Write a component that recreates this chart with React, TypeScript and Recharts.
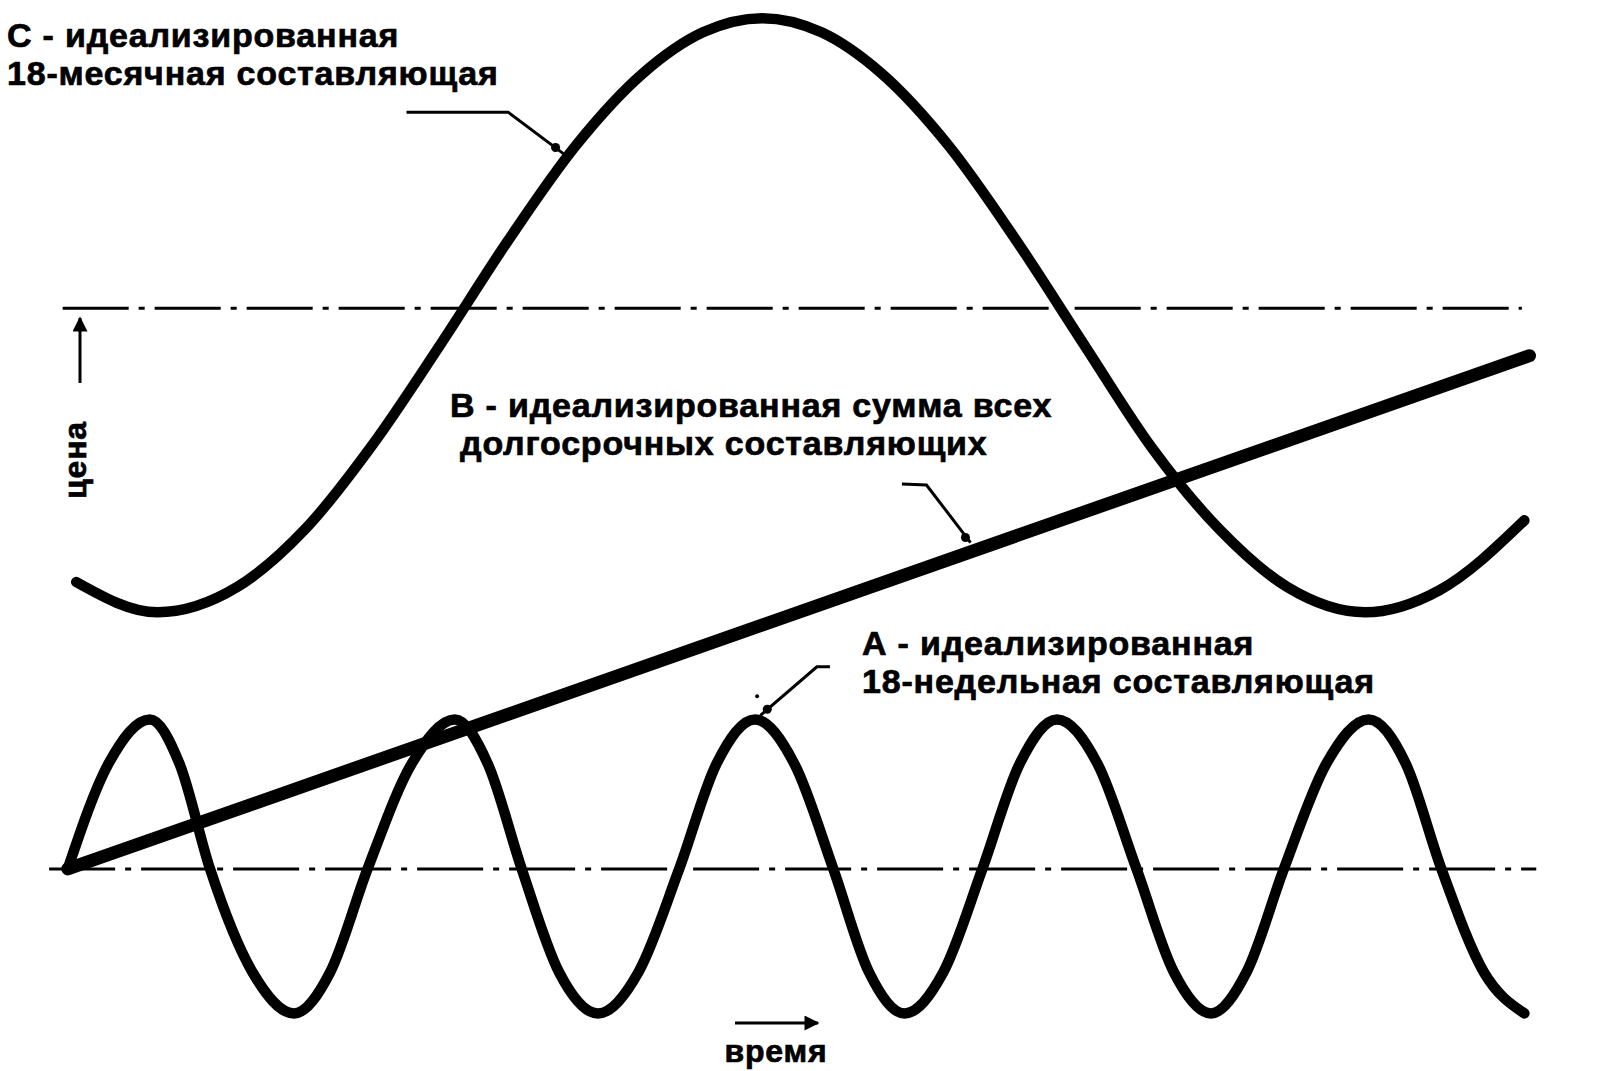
import React from 'react';
import { ComposedChart, Line, XAxis, YAxis, ReferenceDot } from 'recharts';

// время в неделях, цена в условных единицах (0 = нижняя осевая линия)
const weekDomain = [-4, 90.7];
const priceDomain = [-20, 86];

// A - 18-недельная составляющая
const cycleA = [
  { t: 0, p: 0 }, { t: 2.4, p: 10.4 }, { t: 4.85, p: 14.8 }, { t: 6.6, p: 10.4 },
  { t: 8.4, p: 0 }, { t: 10.9, p: -10.2 }, { t: 13.36, p: -14.3 }, { t: 15.5, p: -10.2 },
  { t: 17.7, p: 0 }, { t: 20.3, p: 10.4 }, { t: 22.86, p: 14.8 }, { t: 24.8, p: 10.4 },
  { t: 26.8, p: 0 }, { t: 29.0, p: -10.2 }, { t: 31.3, p: -14.3 }, { t: 33.7, p: -10.2 },
  { t: 36.1, p: 0 }, { t: 38.3, p: 10.4 }, { t: 40.57, p: 14.8 }, { t: 42.9, p: 10.4 },
  { t: 45.2, p: 0 }, { t: 47.3, p: -10.2 }, { t: 49.4, p: -14.3 }, { t: 51.7, p: -10.2 },
  { t: 54.0, p: 0 }, { t: 56.2, p: 10.4 }, { t: 58.4, p: 14.8 }, { t: 60.8, p: 10.4 },
  { t: 63.1, p: 0 }, { t: 65.3, p: -10.2 }, { t: 67.5, p: -14.3 }, { t: 69.6, p: -10.2 },
  { t: 71.8, p: 0 }, { t: 74.3, p: 10.4 }, { t: 76.8, p: 14.8 }, { t: 79.0, p: 10.4 },
  { t: 81.1, p: 0 }, { t: 83.6, p: -10.2 }, { t: 86.0, p: -14.3 },
];

// B - сумма всех долгосрочных составляющих
const trendB = [
  { t: 0, p: 0 },
  { t: 86.3, p: 50.8 },
];

// C - 18-месячная составляющая
const cycleC = [
  { t: 0.5, p: 28.4 }, { t: 5.3, p: 25.4 }, { t: 10, p: 27.9 }, { t: 14, p: 33.6 },
  { t: 18, p: 42.0 }, { t: 22, p: 51.9 }, { t: 26, p: 62.2 }, { t: 30, p: 71.6 },
  { t: 34, p: 78.8 }, { t: 37.5, p: 82.8 }, { t: 41, p: 84.2 }, { t: 44.5, p: 82.8 },
  { t: 48, p: 78.8 }, { t: 52, p: 71.6 }, { t: 56, p: 62.2 }, { t: 60, p: 51.9 },
  { t: 64, p: 41.7 }, { t: 68, p: 33.6 }, { t: 72, p: 27.9 }, { t: 76.6, p: 25.4 },
  { t: 81, p: 27.6 }, { t: 86, p: 34.5 },
];

// осевые линии
const lowerAxis = [{ t: -1.1, p: 0 }, { t: 86.7, p: 0 }];
const upperAxis = [{ t: -0.3, p: 55.5 }, { t: 85.85, p: 55.5 }];

// выноски подписей
const leaderC = [{ t: 20.0, p: 74.9 }, { t: 26.0, p: 74.9 }, { t: 29.5, p: 70.5 }];
const leaderB = [{ t: 49.25, p: 38.1 }, { t: 50.7, p: 38.0 }, { t: 53.3, p: 32.3 }];
const leaderA = [{ t: 45.0, p: 20.0 }, { t: 44.23, p: 20.0 }, { t: 40.9, p: 15.2 }];

const labelC = ['С - идеализированная', '18-месячная составляющая'];
const labelB = ['В - идеализированная сумма всех', 'долгосрочных составляющих'];
const labelA = ['А - идеализированная', '18-недельная составляющая'];

const font = '"Liberation Sans", Arial, Helvetica, sans-serif';
const textStyle = {
  fontFamily: font,
  fontWeight: 'bold' as const,
  fontSize: 34,
  letterSpacing: 0.8,
  fill: '#000',
  stroke: '#000',
  strokeWidth: 0.7,
};

const lineProps = { dot: false, activeDot: false, isAnimationActive: false, stroke: '#000' };

const App: React.FC = () => {
  return (
    <div style={{ position: 'absolute', left: 0, top: 0, width: 1604, height: 1071, background: '#fff' }}>
      <ComposedChart width={1604} height={1071} margin={{ top: 0, right: 0, bottom: 0, left: 0 }}>
        <XAxis type="number" dataKey="t" domain={weekDomain} hide allowDataOverflow />
        <YAxis type="number" dataKey="p" domain={priceDomain} hide allowDataOverflow />

        <Line {...lineProps} data={lowerAxis} dataKey="p" type="linear" strokeWidth={3}
          strokeDasharray="66 10 6 10" />
        <Line {...lineProps} data={upperAxis} dataKey="p" type="linear" strokeWidth={3}
          strokeDasharray="66 10 6 10" />

        <Line {...lineProps} data={cycleC} dataKey="p" type="monotone" strokeWidth={10.5}
          strokeLinecap="round" />
        <Line {...lineProps} data={trendB} dataKey="p" type="linear" strokeWidth={13}
          strokeLinecap="round" />
        <Line {...lineProps} data={cycleA} dataKey="p" type="monotone" strokeWidth={10.5}
          strokeLinecap="round" strokeLinejoin="round" />

        <Line {...lineProps} data={leaderC} dataKey="p" type="linear" strokeWidth={3} />
        <Line {...lineProps} data={leaderB} dataKey="p" type="linear" strokeWidth={3} />
        <Line {...lineProps} data={leaderA} dataKey="p" type="linear" strokeWidth={3} />
        <ReferenceDot x={28.8} y={71.4} r={4.5} fill="#000" stroke="none" />
        <ReferenceDot x={53.0} y={32.8} r={4.5} fill="#000" stroke="none" />
        <ReferenceDot x={41.3} y={15.8} r={4.5} fill="#000" stroke="none" />
        <ReferenceDot x={40.7} y={17.1} r={2} fill="#000" stroke="none" />
      </ComposedChart>

      <svg width={1604} height={1071} style={{ position: 'absolute', left: 0, top: 0, pointerEvents: 'none' }}>
        <defs>
          <marker id="arr" viewBox="0 0 10 10" refX="9" refY="5" markerWidth="6" markerHeight="5" orient="auto">
            <path d="M0,0 L10,5 L0,10 z" fill="#000" />
          </marker>
        </defs>
        <text x={7} y={47} style={textStyle}>{labelC[0]}</text>
        <text x={7} y={85} style={textStyle}>{labelC[1]}</text>
        <text x={450} y={417} style={textStyle}>{labelB[0]}</text>
        <text x={460} y={455} style={textStyle}>{labelB[1]}</text>
        <text x={862} y={655} style={textStyle}>{labelA[0]}</text>
        <text x={862} y={693} style={textStyle}>{labelA[1]}</text>

        <line x1={80} y1={383} x2={80} y2={318} stroke="#000" strokeWidth={3} markerEnd="url(#arr)" />
        <text x={86} y={460} transform="rotate(-90 86 460)" textAnchor="middle"
          style={{ ...textStyle, fontSize: 32 }}>цена</text>

        <line x1={735} y1={1023} x2={818} y2={1023} stroke="#000" strokeWidth={3} markerEnd="url(#arr)" />
        <text x={776} y={1062} textAnchor="middle" style={{ ...textStyle, fontSize: 32 }}>время</text>
      </svg>
    </div>
  );
};

export default App;
